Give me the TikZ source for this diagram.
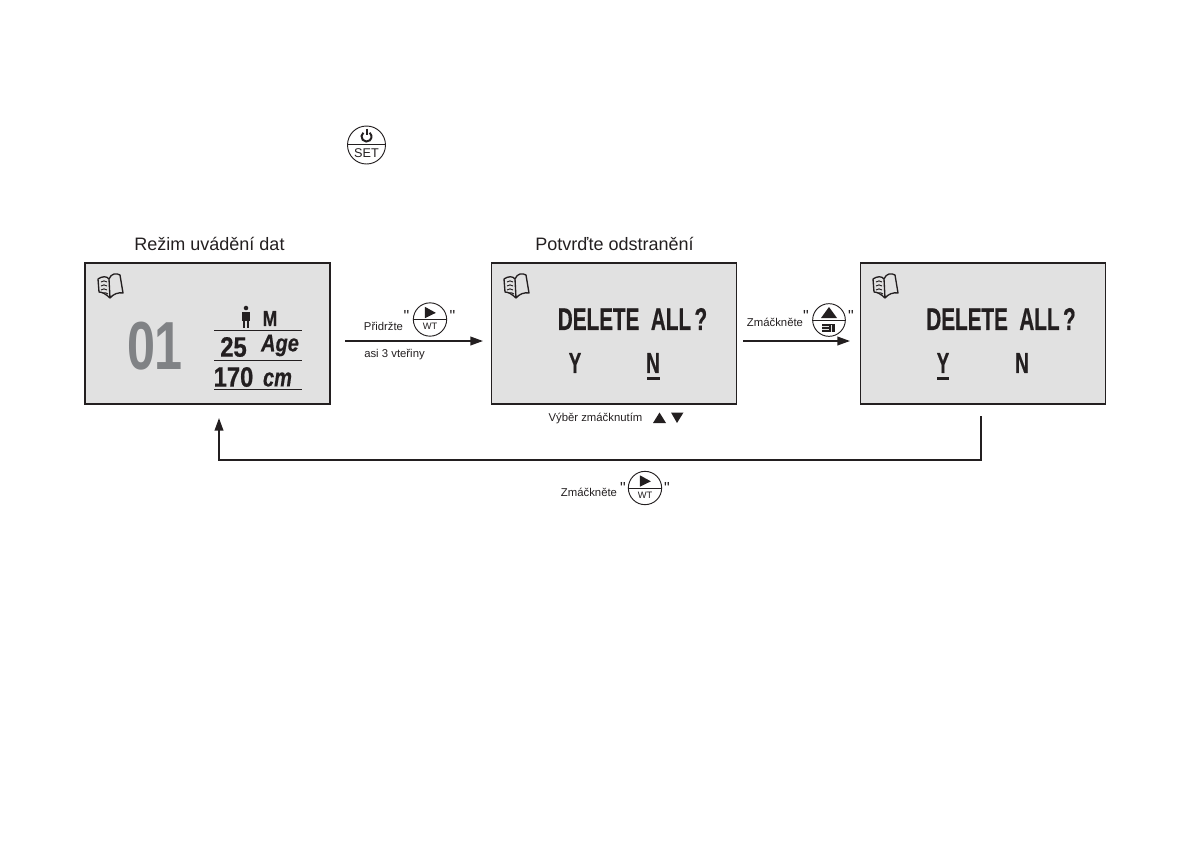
\documentclass[tikz,border=0pt]{standalone}
\usepackage{fontspec}
\usepackage{graphicx}
\setmainfont{Liberation Sans}
\newfontface\quotefont{Liberation Sans}
\newfontface\lcdb[FakeBold=.7]{Liberation Sans Bold}
\newfontface\lcdbi[FakeBold=.4]{Liberation Sans Bold Italic}
\newfontface\lcdplain{Liberation Sans Bold}
\usetikzlibrary{arrows.meta}
\definecolor{lcd}{HTML}{E1E1E1}
\definecolor{ink}{HTML}{231F20}
\definecolor{bigdig}{HTML}{808285}
\tikzset{
  panel/.style={draw=ink,line width=1.1pt,fill=lcd,minimum width=183.75pt,minimum height=105.75pt,inner sep=0pt},
  btn/.style={circle,draw=ink,line width=.7pt,inner sep=0pt},
  title/.style={font=\fontsize{13.5pt}{14pt}\selectfont,text=ink,inner sep=0pt},
  small/.style={font=\fontsize{8.5pt}{9pt}\selectfont,text=ink,inner sep=0pt},
  quote/.style={font=\fontsize{12pt}{12pt}\quotefont,text=ink,inner sep=0pt},
  lcdtxt/.style={text=ink,inner sep=0pt},
  conn/.style={draw=ink,line width=1.3pt,-{Triangle[length=9.5pt,width=6.5pt]}},
  rule/.style={draw=ink,line width=.7pt},
  bookline/.style={draw=ink,line width=1pt,line join=round}
}
\newcommand{\booklcd}[2]{%
  \begin{scope}[shift={(#1,#2)}]
   \path[bookline] (13,24) .. controls (9,20) and (5,18) .. (2,18) -- (1,5) .. controls (5,2) and (10,2) .. (12,5)
      .. controls (14,-1) and (20,-1) .. (23,1) -- (26,19) .. controls (22,18) and (16,20) .. (13,24)
      -- (12,5);
   \path[bookline,line width=.7pt] (4,8) .. controls (6,6) and (8,7) .. (10,8)
      (4,12) .. controls (6,10) and (8,11) .. (10,12)
      (4,16) .. controls (6,14) and (8,15) .. (10,16)
      (6,19) .. controls (8,18) and (9,19) .. (11,20);
  \end{scope}}
\newcommand{\wtbtn}[4]{% name,x,y,size-in-pt
  \node[btn,minimum size=#4pt] (#1) at (#2,#3) {};
  \draw[ink,line width=.7pt] (#1.west) -- (#1.east);
  \fill[ink] ([xshift=-3.8pt,yshift=1pt]#1.center) -- ([xshift=4.4pt,yshift=5pt]#1.center) -- ([xshift=-3.8pt,yshift=9.5pt]#1.center) -- cycle;
  \node[inner sep=0pt,text=ink,font=\fontsize{7pt}{7pt}\selectfont] at ([yshift=-5.3pt]#1.center) {WT};}
\begin{document}
\begin{tikzpicture}[x=.75pt,y=-.75pt]
\useasboundingbox (0,0) rectangle (1192,840);

% power / SET button
\node[btn,minimum size=28.5pt] (setb) at (366.5,145) {};
\draw[ink,line width=.7pt] (347.5,144) -- (385.5,144);
\draw[ink,line width=1.5pt] (363.3,132.7) arc[start angle=130,end angle=410,radius=3.75pt];
\draw[ink,line width=1.5pt] (366.5,128.5) -- (366.5,135);
\node[inner sep=0pt,text=ink,font=\fontsize{9.5pt}{9.5pt}\selectfont] (setl) at (366.5,153) {SET};

% titles
\node[title] (t1) at (209.5,244) {Režim uvádění dat};
\node[title] (t2) at (614.5,244) {Potvrďte odstranění};

% panels
\node[panel] (pa) at (207.5,333.5) {};
\node[panel] (pb) at (614,333.5) {};
\node[panel] (pc) at (983,333.5) {};
\booklcd{97}{274}
\booklcd{503}{274}
\booklcd{872}{274}

% panel A
\node[lcdtxt,text=bigdig] (n01) at (155,346) {\scalebox{.74}[1]{\fontsize{51pt}{51pt}\lcdplain 01}};
\fill[ink] (246,308) circle[radius=1.7pt];
\fill[ink] (242,312) rectangle (250,320.5);
\fill[ink] (243,320) rectangle (245,327.5);
\fill[ink] (247,320) rectangle (249,327.5);
\node[lcdtxt] (m) at (270,318.5) {\scalebox{1}[1.25]{\fontsize{13pt}{13pt}\lcdb M}};
\draw[rule] (214,330) -- (302,330);
\node[lcdtxt] (a25) at (233.5,347) {\scalebox{.85}[1]{\fontsize{21pt}{21pt}\lcdb 25}};
\node[lcdtxt] (age) at (280,345.5) {\scalebox{1}[1.2]{\fontsize{15pt}{15pt}\lcdbi Age}};
\draw[rule] (214,360) -- (302,360);
\node[lcdtxt] (a170) at (233.5,377) {\scalebox{.85}[1]{\fontsize{21pt}{21pt}\lcdb 170}};
\node[lcdtxt] (cm) at (277.5,379.5) {\scalebox{1}[1.3]{\fontsize{15pt}{15pt}\lcdbi cm}};
\draw[rule] (214,389) -- (302,389);

% panel B
\node[lcdtxt] (db) at (632.5,319) {\scalebox{.66}[1]{\fontsize{23.5pt}{24pt}\lcdb DELETE\ \ ALL\,?}};
\node[lcdtxt] (yb) at (575,363) {\scalebox{.65}[1]{\fontsize{21.7pt}{22pt}\lcdb Y}};
\node[lcdtxt] (nb) at (653,363) {\scalebox{.65}[1]{\fontsize{21.7pt}{22pt}\lcdb N}};
\fill[ink] (646.5,377) rectangle (659.5,379.5);

% panel C
\node[lcdtxt] (dc) at (1001,319) {\scalebox{.66}[1]{\fontsize{23.5pt}{24pt}\lcdb DELETE\ \ ALL\,?}};
\node[lcdtxt] (yc) at (943,363) {\scalebox{.65}[1]{\fontsize{21.7pt}{22pt}\lcdb Y}};
\node[lcdtxt] (nc) at (1022,363) {\scalebox{.65}[1]{\fontsize{21.7pt}{22pt}\lcdb N}};
\fill[ink] (937,377) rectangle (949,379.5);

% connectors
\coordinate (ab1) at (345,341); \coordinate (ab2) at (483,341);
\coordinate (bc1) at (743,341); \coordinate (bc2) at (850,341);
\coordinate (r1) at (981,416); \coordinate (r2) at (219,418);
\draw[conn] (ab1) -- (ab2);
\draw[conn] (bc1) -- (bc2);
\draw[conn] (r1) -- (981,460) -- (219,460) -- (r2);

% A-B label
\node[small] (l1) at (383.5,326.5) {Přidržte};
\node[small] (l2) at (394.5,355) {asi 3 vteřiny};
\wtbtn{b1}{430}{319.5}{25}
\node[quote] (q1) at (406.5,316) {"};
\node[quote] (q2) at (452.5,316) {"};

% B-C label
\node[small] (l3) at (775,322.5) {Zmáčkněte};
\node[btn,minimum size=24.5pt] (b2) at (829,320) {};
\draw[ink,line width=.7pt] (b2.west) -- (b2.east);
\fill[ink] (821,318) -- (829,307) -- (837,318) -- cycle;
\fill[ink] (822,324) rectangle (835,332);
\draw[lcd,line width=.4pt] (822,326.5) -- (829,326.5) (822,329) -- (829,329) (831,325) -- (831,332);
\node[quote] (q3) at (806,316) {"};
\node[quote] (q4) at (851,316) {"};

% below B
\node[small] (l4) at (595.5,418.5) {Výběr zmáčknutím};
\fill[ink] (653,423) -- (659.5,412.5) -- (666,423) -- cycle;
\fill[ink] (671,412.5) -- (683.5,412.5) -- (677,423) -- cycle;

% bottom label
\node[small] (l5) at (589,492) {Zmáčkněte};
\wtbtn{b3}{645}{488}{25}
\node[quote] (q5) at (623,488) {"};
\node[quote] (q6) at (667,488) {"};
\end{tikzpicture}
\end{document}
